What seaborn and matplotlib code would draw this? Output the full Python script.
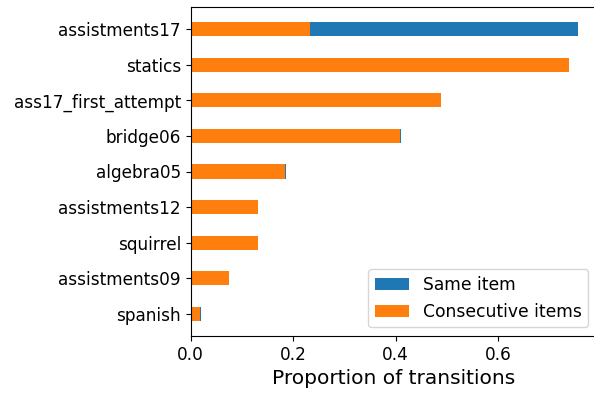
import matplotlib
matplotlib.use("Agg")
import matplotlib.pyplot as plt
import seaborn as sns
import pandas as pd

datasets = ["assistments17", "statics", "ass17_first_attempt", "bridge06",
            "algebra05", "assistments12", "squirrel", "assistments09", "spanish"]
same_item = [0.755, 0.738, 0.489, 0.410, 0.186, 0.132, 0.132, 0.074, 0.0205]
consecutive_items = [0.233, 0.738, 0.489, 0.408, 0.184, 0.132, 0.132, 0.074, 0.0185]

df = pd.DataFrame({"dataset": datasets,
                   "same": same_item,
                   "consecutive": consecutive_items})

fig = plt.figure(figsize=(5.94, 3.94), dpi=100)
W, H = 594, 394
ax = fig.add_axes([190.7 / W, 58 / H, (597 - 190.7) / W, (336 - 7) / H])

sns.barplot(data=df, x="same", y="dataset", orient="h", color="#1f77b4",
            saturation=1, width=0.4, label="Same item", ax=ax, errorbar=None)
sns.barplot(data=df, x="consecutive", y="dataset", orient="h", color="#ff7f0e",
            saturation=1, width=0.4, label="Consecutive items", ax=ax, errorbar=None)

ax.set_ylim(len(datasets) - 1 + 0.62, -0.62)
ax.set_xlim(0, max(same_item) * 1.05)
ax.set_xticks([0.0, 0.2, 0.4, 0.6])
ax.set_xticklabels(["0.0", "0.2", "0.4", "0.6"])
ax.set_xlabel("Proportion of transitions", fontsize=14.5)
ax.set_ylabel("")
ax.tick_params(axis="both", labelsize=12.2)
for s in ax.spines.values():
    s.set_visible(True)

ax.legend(loc="lower right", fontsize=12.3)

fig.savefig("out.png", dpi=100)
